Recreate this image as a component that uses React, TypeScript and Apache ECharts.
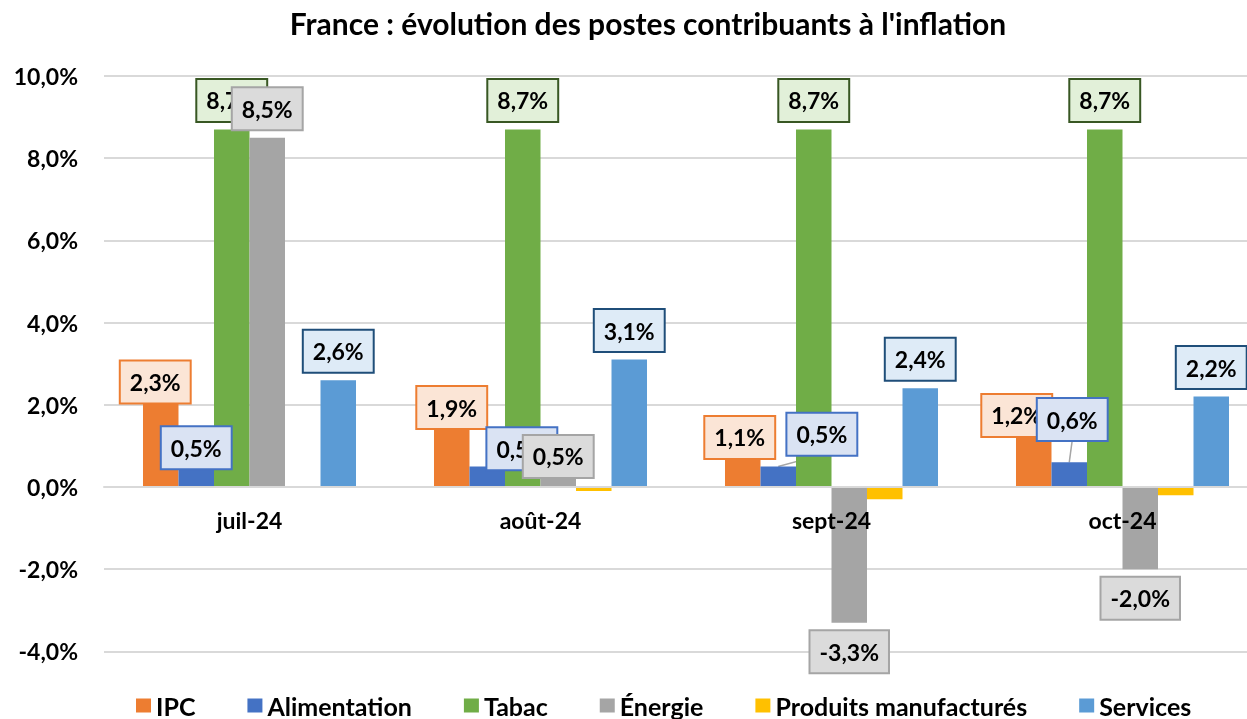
import React, { useEffect, useRef } from "react";
import * as echarts from "echarts";

const categories = ["juil-24", "août-24", "sept-24", "oct-24"];
const seriesNames = ["IPC", "Alimentation", "Tabac", "Énergie", "Produits manufacturés", "Services"];
const ipc = [2.3, 1.9, 1.1, 1.2];
const alimentation = [0.5, 0.5, 0.5, 0.6];
const tabac = [8.7, 8.7, 8.7, 8.7];
const energie = [8.5, 0.5, -3.3, -2.0];
const produitsManufactures = [0, -0.1, -0.3, -0.2];
const services = [2.6, 3.1, 2.4, 2.2];
const yTicks = { min: -4, max: 10, interval: 2 };

const colors = ["#ED7D31", "#4472C4", "#70AD47", "#A5A5A5", "#FFC000", "#5B9BD5"];
const labelFill = ["#FBE5D6", "#DAE3F3", "#E2F0D9", "#DBDBDB", null, "#DEEBF7"];
const labelBorder = ["#ED7D31", "#4472C4", "#385723", "#A5A5A5", null, "#1F4E79"];

// label displacement (px) per series index -> per category index
const labelShift: Record<number, [number, number][]> = {
  0: [[-5.5, 18.5], [0, 27.6], [-3, 24.7], [-17, 6.8]],
  1: [[0, 10.3], [34.6, 11.3], [43.6, -3.3], [3, -13.8]],
  3: [[0, 0], [0, 19], [0, 0], [0, 0]],
};
// leader lines: [seriesIndex, categoryIndex]
const leaderLines: [number, number][] = [[1, 2], [1, 3]];

const FONT = "Lato";
const LABEL_DIST = 8.5;
const BAR_CAT_GAP = 0.268;
const GRID = { left: 104, top: 76, width: 1164, height: 575.4 };
const fmt = (v: number) => v.toFixed(1).replace(".", ",") + "%";

export default function App() {
  const ref = useRef<HTMLDivElement>(null);
  useEffect(() => {
    if (!ref.current) return;
    const chart = echarts.init(ref.current, null, { renderer: "svg" });
    const all = [ipc, alimentation, tabac, energie, produitsManufactures, services];
    const series = all.map((arr, si) => ({
      name: seriesNames[si],
      type: "bar",
      barGap: "0%",
      barCategoryGap: BAR_CAT_GAP * 100 + "%",
      itemStyle: { color: colors[si] },
      label: labelFill[si]
        ? {
            show: true,
            position: "top",
            distance: LABEL_DIST,
            formatter: (p: any) => fmt(p.value),
            fontFamily: FONT,
            fontWeight: "bold",
            fontSize: 23,
            lineHeight: 27,
            color: "#000",
            backgroundColor: labelFill[si],
            borderColor: labelBorder[si],
            borderWidth: 2,
            padding: [7, 9, 7, 9],
          }
        : { show: false },
      data: arr.map((v) => ({
        value: v,
        label: { position: v < 0 ? "bottom" : "top" },
      })),
    }));
    const zeroOffset = -(GRID.height * (0 - yTicks.min)) / (yTicks.max - yTicks.min);
    chart.setOption({
      animation: false,
      title: {
        text: "France : évolution des postes contribuants à l'inflation",
        left: 643,
        textAlign: "center",
        top: 3,
        textStyle: { fontFamily: FONT, fontWeight: "bold", fontSize: 30, color: "#000" },
      },
      legend: {
        left: 136,
        top: 693,
        padding: 0,
        itemWidth: 15,
        itemHeight: 14,
        itemGap: 52,
        icon: "rect",
        data: seriesNames,
        textStyle: { fontFamily: FONT, fontWeight: "bold", fontSize: 25, color: "#000" },
      },
      grid: { ...GRID, outerBoundsMode: "none", containLabel: false },
      xAxis: {
        type: "category",
        data: categories,
        z: 3,
        offset: zeroOffset,
        axisTick: { show: false },
        axisLine: { onZero: false, lineStyle: { color: "#D9D9D9", width: 2 } },
        axisLabel: { fontFamily: FONT, fontWeight: "bold", fontSize: 23, lineHeight: 23, color: "#000", margin: 21 },
      },
      yAxis: {
        type: "value",
        min: yTicks.min,
        max: yTicks.max,
        interval: yTicks.interval,
        axisLine: { show: false },
        axisTick: { show: false },
        splitLine: { lineStyle: { color: "#D9D9D9", width: 2 } },
        axisLabel: {
          fontFamily: FONT,
          fontWeight: "bold",
          fontSize: 23,
          color: "#000",
          margin: 26,
          formatter: (v: number) => fmt(v),
        },
      },
      labelLayout: (p: any) => {
        const s = labelShift[p.seriesIndex];
        if (!s) return {};
        const [dx, dy] = s[p.dataIndex];
        return { dx, dy };
      },
      series,
    });

    // leader lines from bar top to displaced label, positioned through the chart's scales
    const p0 = chart.convertToPixel({ xAxisIndex: 0, yAxisIndex: 0 }, [0, 0]) as number[];
    const p1 = chart.convertToPixel({ xAxisIndex: 0, yAxisIndex: 0 }, [1, 0]) as number[];
    const catW = p1[0] - p0[0];
    const barW = (catW * (1 - BAR_CAT_GAP)) / all.length;
    const lines = leaderLines.map(([si, ci]) => {
      const v = all[si][ci];
      const pt = chart.convertToPixel({ xAxisIndex: 0, yAxisIndex: 0 }, [ci, v]) as number[];
      const bx = pt[0] + (si - (all.length - 1) / 2) * barW;
      const by = pt[1];
      const [dx, dy] = labelShift[si][ci];
      return {
        type: "line",
        z: 1,
        shape: { x1: bx, y1: by, x2: bx + dx, y2: by - LABEL_DIST + dy },
        style: { stroke: "#A6A6A6", lineWidth: 1.5 },
      };
    });
    chart.setOption({ graphic: lines });
    return () => chart.dispose();
  }, []);
  return <div ref={ref} style={{ position: "fixed", left: 0, top: 0, width: 1247, height: 719 }} />;
}
